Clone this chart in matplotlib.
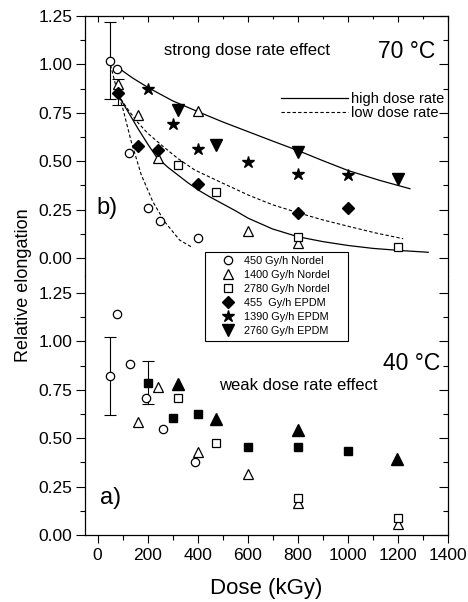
import matplotlib
matplotlib.use("Agg")
import matplotlib.pyplot as plt
from matplotlib.lines import Line2D
from matplotlib.patches import Rectangle
from matplotlib.ticker import MultipleLocator, FormatStrFormatter

plt.rcParams["font.family"] = ["Liberation Sans", "DejaVu Sans"]

# ---- b) 70 °C ----
n450_70_x = [50, 77, 125, 200, 250, 400]
n450_70_y = [1.02, 0.975, 0.54, 0.26, 0.19, 0.105]
n1400_70_x = [80, 160, 240, 400, 600, 800]
n1400_70_y = [0.90, 0.74, 0.515, 0.76, 0.14, 0.08]
n2780_70_x = [320, 475, 800, 1200]
n2780_70_y = [0.48, 0.34, 0.11, 0.055]
e455_70_x = [80, 160, 240, 400, 800, 1000]
e455_70_y = [0.85, 0.58, 0.56, 0.385, 0.235, 0.26]
e1390_70_x = [200, 300, 400, 600, 800, 1000]
e1390_70_y = [0.875, 0.69, 0.565, 0.495, 0.435, 0.43]
e2760_70_x = [320, 475, 800, 1200]
e2760_70_y = [0.765, 0.585, 0.55, 0.41]

# error bars: x, y, lower end, upper end
err70_x = [50, 80]
err70_y = [1.02, 0.855]
err70_lo = [0.82, 0.79]
err70_hi = [1.22, 0.925]

# fitted curves, points
high_top_x = [80, 140, 208, 300, 401, 500, 603, 700, 801, 900, 1001, 1125, 1248]
high_top_y = [0.985, 0.93, 0.876, 0.812, 0.756, 0.703, 0.652, 0.604, 0.555, 0.503, 0.452, 0.402, 0.358]
high_bot_x = [81, 120, 161, 200, 235, 280, 321, 360, 404, 450, 500, 550, 603, 700, 801, 900, 1001, 1100, 1221, 1321]
high_bot_y = [0.845, 0.76, 0.67, 0.59, 0.523, 0.47, 0.429, 0.39, 0.35, 0.315, 0.28, 0.245, 0.205,
              0.15, 0.11, 0.085, 0.065, 0.05, 0.038, 0.03]
low_mid_x = [81, 120, 161, 200, 255, 320, 388, 488, 603, 700, 801, 900, 1008, 1110, 1221]
low_mid_y = [0.845, 0.77, 0.70, 0.645, 0.584, 0.515, 0.455, 0.394, 0.325, 0.275, 0.234, 0.197, 0.162, 0.13, 0.10]
low_steep_x = [52, 75, 101, 135, 175, 221, 268, 328, 381]
low_steep_y = [0.997, 0.88, 0.773, 0.60, 0.429, 0.291, 0.188, 0.093, 0.053]

# ---- a) 40 °C ----
n450_40_x = [50, 77, 130, 195, 260, 390]
n450_40_y = [0.82, 1.14, 0.885, 0.705, 0.548, 0.378]
n1400_40_x = [160, 240, 400, 600, 800, 1200]
n1400_40_y = [0.585, 0.765, 0.43, 0.315, 0.165, 0.058]
n2780_40_x = [320, 475, 800, 1200]
n2780_40_y = [0.71, 0.477, 0.19, 0.09]
sq_40_x = [200, 300, 400, 600, 800, 1000]
sq_40_y = [0.783, 0.603, 0.625, 0.453, 0.456, 0.434]
tri_40_x = [320, 475, 800, 1195]
tri_40_y = [0.78, 0.60, 0.54, 0.393]

err40_x = [50, 200]
err40_y = [0.82, 0.787]
err40_lo = [0.62, 0.675]
err40_hi = [1.02, 0.90]

LABELS = ["450 Gy/h Nordel", "1400 Gy/h Nordel", "2780 Gy/h Nordel",
          "455  Gy/h EPDM", "1390 Gy/h EPDM", "2760 Gy/h EPDM"]

W, H = 468, 602
fig = plt.figure(figsize=(W / 100, H / 100), dpi=100)
left, right = 85 / W, 448 / W
split = 1 - 275.5 / H
ax_top = fig.add_axes([left, split, right - left, (1 - 16 / H) - split])
ax_bot = fig.add_axes([left, 1 - 535 / H, right - left, split - (1 - 535 / H)])

open_kw = dict(linestyle="none", mfc="white", mec="black", mew=0.9, color="black")
fill_kw = dict(linestyle="none", color="black")
DASH = (0, (3, 2))


def errbars(ax, x, y, lo, hi):
    ax.errorbar(x, y, yerr=[[a - b for a, b in zip(y, lo)], [c - a for a, c in zip(y, hi)]],
                fmt="none", ecolor="black", elinewidth=0.8, capsize=4, capthick=0.8)


# top panel
ax = ax_top
ax.plot(high_top_x, high_top_y, "-", color="black", lw=0.9)
ax.plot(high_bot_x, high_bot_y, "-", color="black", lw=0.9)
ax.plot(low_mid_x, low_mid_y, color="black", lw=0.8, ls=DASH)
ax.plot(low_steep_x, low_steep_y, color="black", lw=0.8, ls=DASH)
errbars(ax, err70_x, err70_y, err70_lo, err70_hi)
ax.plot(n450_70_x, n450_70_y, marker="o", ms=6, **open_kw)
ax.plot(n1400_70_x, n1400_70_y, marker="^", ms=7, **open_kw)
ax.plot(n2780_70_x, n2780_70_y, marker="s", ms=5.5, **open_kw)
ax.plot(e455_70_x, e455_70_y, marker="D", ms=6, **fill_kw)
ax.plot(e1390_70_x, e1390_70_y, marker="*", ms=9, **fill_kw)
ax.plot(e2760_70_x, e2760_70_y, marker="v", ms=8, **fill_kw)
ax.text(596, 1.074, "strong dose rate effect", ha="center", va="center", fontsize=12)
ax.text(1350, 1.068, "70 °C", ha="right", va="center", fontsize=16.5)
ax.text(-5, 0.258, "b)", ha="left", va="center", fontsize=17)

# bottom panel
ax = ax_bot
errbars(ax, err40_x, err40_y, err40_lo, err40_hi)
ax.plot(n450_40_x, n450_40_y, marker="o", ms=6, **open_kw)
ax.plot(n1400_40_x, n1400_40_y, marker="^", ms=7, **open_kw)
ax.plot(n2780_40_x, n2780_40_y, marker="s", ms=5.5, **open_kw)
ax.plot(sq_40_x, sq_40_y, marker="s", ms=6, **fill_kw)
ax.plot(tri_40_x, tri_40_y, marker="^", ms=8, **fill_kw)
ax.text(1368, 0.888, "40 °C", ha="right", va="center", fontsize=16.5)
ax.text(802, 0.77, "weak dose rate effect", ha="center", va="center", fontsize=12)
ax.text(8, 0.19, "a)", ha="left", va="center", fontsize=17)

for ax in (ax_top, ax_bot):
    ax.set_xlim(-50, 1400)
    ax.xaxis.set_major_locator(MultipleLocator(200))
    ax.xaxis.set_minor_locator(MultipleLocator(100))
    ax.set_yticks([0, 0.25, 0.5, 0.75, 1.0, 1.25])
    ax.yaxis.set_minor_locator(MultipleLocator(0.125))
    ax.yaxis.set_major_formatter(FormatStrFormatter("%.2f"))
    ax.tick_params(axis="y", which="both", left=True, right=True, labelsize=12.5, width=0.8, pad=2.5)
    ax.tick_params(axis="y", which="major", length=6.5)
    ax.tick_params(axis="y", which="minor", length=3.5)
    for sp in ax.spines.values():
        sp.set_linewidth(0.9)

ax_top.set_ylim(-0.09, 1.25)
ax_bot.set_ylim(0, 1.34)
ax_top.spines["bottom"].set_visible(False)
ax_bot.spines["top"].set_visible(False)
ax_top.tick_params(axis="x", which="both", bottom=False, top=True, labelbottom=False,
                   direction="in", width=0.8)
ax_top.tick_params(axis="x", which="major", length=4)
ax_top.tick_params(axis="x", which="minor", length=2.5)
ax_bot.tick_params(axis="x", which="both", bottom=True, top=False, direction="out",
                   labelsize=12.5, width=0.8)
ax_bot.tick_params(axis="x", which="major", length=6)
ax_bot.tick_params(axis="x", which="minor", length=3.5)

# right-hand ticks point into the plot
for ax in (ax_top, ax_bot):
    for t in ax.yaxis.get_major_ticks() + ax.yaxis.get_minor_ticks():
        t.tick2line.set_marker(0)

ax_bot.set_xlabel("Dose (kGy)", fontsize=16, labelpad=11)
fig.text(24 / W, 1 - 285 / H, "Relative elongation", rotation=90,
         ha="center", va="center", fontsize=13)

# series legend box spanning both panels
box = Rectangle((205 / W, 1 - 341 / H), 143 / W, 89 / H, transform=fig.transFigure,
                facecolor="white", edgecolor="black", lw=0.8, zorder=5)
fig.patches.append(box)
handles = [
    Line2D([], [], marker="o", ms=6, **open_kw),
    Line2D([], [], marker="^", ms=7, **open_kw),
    Line2D([], [], marker="s", ms=5.5, **open_kw),
    Line2D([], [], marker="D", ms=6, **fill_kw),
    Line2D([], [], marker="*", ms=9, **fill_kw),
    Line2D([], [], marker="v", ms=8, **fill_kw),
]
fig.legend(handles, LABELS, loc="upper left", bbox_to_anchor=(219 / W, 1 - 256 / H),
           fontsize=7.8, labelspacing=0.36, handletextpad=0.75, handlelength=1.6,
           borderpad=0, borderaxespad=0, frameon=False)

# line style legend
line_handles = [Line2D([], [], color="black", lw=0.9),
                Line2D([], [], color="black", lw=0.8, ls=DASH)]
fig.legend(line_handles, ["high dose rate", "low dose rate"], loc="upper left",
           bbox_to_anchor=(281 / W, 1 - 92 / H), frameon=False, fontsize=10.5,
           handlelength=4.6, handletextpad=0.2, labelspacing=0.0, borderpad=0, borderaxespad=0)

fig.savefig("out.png", dpi=100)
